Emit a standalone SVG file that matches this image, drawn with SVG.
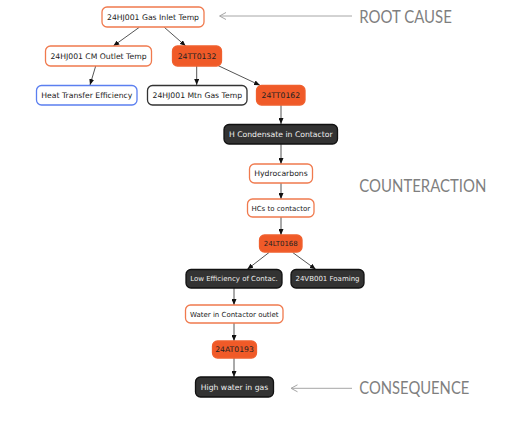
<svg xmlns="http://www.w3.org/2000/svg" width="505" height="424" viewBox="0 0 505 424">
<defs>
<style>
.n rect{stroke-width:1.3}
.o rect{fill:#fff;stroke:#f07a4e}
.f rect{fill:#f05a28;stroke:#f0602e}
.d rect{fill:#333;stroke:#111}
.b rect{fill:#fff;stroke:#5b7ff0}
.k rect{fill:#fff;stroke:#333}
.n text{font-family:"DejaVu Sans",sans-serif;font-size:7.7px;text-anchor:middle;fill:#222}
.d text{fill:#eee}
.s text{font-size:7px}
.e line{stroke:#555;stroke-width:1;marker-end:url(#ah)}
.lab{font-family:Lato,"Liberation Sans",sans-serif;font-size:17px;fill:#7f7f7f}
.pl{stroke:#a6a6a6;stroke-width:1;fill:none}
</style>
<marker id="ah" markerWidth="6" markerHeight="5" refX="6" refY="2.5" orient="auto" markerUnits="userSpaceOnUse">
<path d="M0,0 L6,2.5 L0,5 Z" fill="#111"/>
</marker>
</defs>
<rect width="505" height="424" fill="#fff"/>
<g id="edges" class="e">
<line x1="139.3" y1="27.3" x2="113.3" y2="46"/>
<line x1="164.3" y1="27.3" x2="185.7" y2="46"/>
<line x1="95.7" y1="66" x2="90" y2="85"/>
<line x1="196.7" y1="66" x2="196.7" y2="85"/>
<line x1="218.3" y1="65.7" x2="260" y2="85.3"/>
<line x1="281" y1="105" x2="281" y2="124"/>
<line x1="281" y1="144" x2="281" y2="164"/>
<line x1="281" y1="183" x2="281" y2="199"/>
<line x1="281" y1="217" x2="281" y2="235"/>
<line x1="269" y1="252.5" x2="247.3" y2="269.3"/>
<line x1="292.7" y1="252.5" x2="315.7" y2="269.3"/>
<line x1="234" y1="288" x2="234" y2="305"/>
<line x1="234" y1="323" x2="234" y2="341"/>
<line x1="234" y1="358" x2="234" y2="377"/>
</g>
<g id="root" class="n o"><rect x="102" y="7" width="102" height="20" rx="5"/><text x="153" y="19.8">24HJ001 Gas Inlet Temp</text></g>
<g id="cm" class="n o"><rect x="45.5" y="46" width="106" height="20" rx="5"/><text x="98.5" y="58.8">24HJ001 CM Outlet Temp</text></g>
<g id="tt0132" class="n f"><rect x="172.5" y="46" width="49" height="20" rx="5"/><text x="197" y="58.8">24TT0132</text></g>
<g id="heat" class="n b"><rect x="36.5" y="85.5" width="100.5" height="19.5" rx="5"/><text x="86.8" y="98">Heat Transfer Efficiency</text></g>
<g id="mtn" class="n k"><rect x="147.5" y="85.5" width="99.5" height="19.5" rx="5"/><text x="197.3" y="98">24HJ001 Mtn Gas Temp</text></g>
<g id="tt0162" class="n f"><rect x="256.5" y="85.5" width="48.5" height="19.5" rx="5"/><text x="280.8" y="98">24TT0162</text></g>
<g id="hcond" class="n d"><rect x="224" y="124.5" width="113.5" height="19.5" rx="5"/><text x="280.8" y="137">H Condensate in Contactor</text></g>
<g id="hydro" class="n o"><rect x="249.5" y="164" width="63" height="19" rx="5"/><text x="281" y="176.3">Hydrocarbons</text></g>
<g id="hcs" class="n o s"><rect x="247.5" y="199" width="66.5" height="18" rx="5"/><text x="280.8" y="210.5">HCs to contactor</text></g>
<g id="lt0168" class="n f s"><rect x="259.5" y="235" width="42.5" height="17" rx="5"/><text x="280.8" y="246">24LT0168</text></g>
<g id="low" class="n d s"><rect x="186" y="269.5" width="96" height="18.5" rx="5"/><text x="234" y="281.2">Low Efficiency of Contac.</text></g>
<g id="foam" class="n d s"><rect x="291" y="269.5" width="73" height="18.5" rx="5"/><text x="327.5" y="281.2">24VB001 Foaming</text></g>
<g id="water" class="n o s"><rect x="185.5" y="305" width="97.5" height="18" rx="5"/><text x="234.3" y="316.5">Water in Contactor outlet</text></g>
<g id="at0193" class="n f"><rect x="212.5" y="341" width="44" height="17" rx="5"/><text x="234.5" y="352.3">24AT0193</text></g>
<g id="high" class="n d"><rect x="195.5" y="377" width="78" height="20" rx="5"/><text x="234.5" y="389.8">High water in gas</text></g>
<g id="labels">
<line class="pl" x1="352" y1="16" x2="220" y2="16"/>
<path class="pl" d="M226,12.5 L219.5,16 L226,19.5"/>
<text class="lab" x="359.3" y="22.7" textLength="92.5" lengthAdjust="spacingAndGlyphs">ROOT CAUSE</text>
<text class="lab" x="359.3" y="191.7" textLength="127" lengthAdjust="spacingAndGlyphs">COUNTERACTION</text>
<line class="pl" x1="352" y1="388.3" x2="291.5" y2="388.3"/>
<path class="pl" d="M297.5,384.8 L291,388.3 L297.5,391.8"/>
<text class="lab" x="359.3" y="394.3" textLength="110" lengthAdjust="spacingAndGlyphs">CONSEQUENCE</text>
</g>
</svg>
